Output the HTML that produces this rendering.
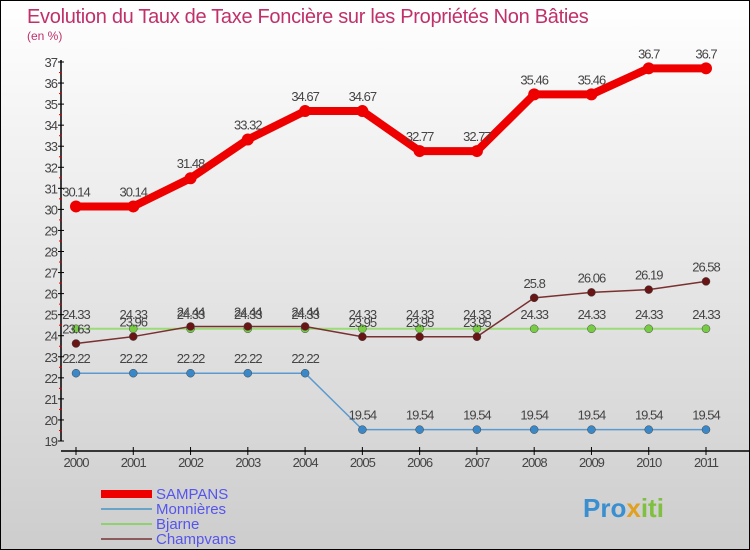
<!DOCTYPE html>
<html><head><meta charset="utf-8"><style>
html,body{margin:0;padding:0}
body{width:750px;height:550px;overflow:hidden;font-family:"Liberation Sans",sans-serif}
#wrap{position:relative;width:748px;height:548px;border:1px solid #000;background:linear-gradient(#ffffff,#cdcdcd)}
</style></head><body>
<div id="wrap">
<svg id="chart" width="748" height="548" style="position:absolute;left:0;top:0">
<text x="26" y="22" font-size="20" fill="#c0306a" letter-spacing="-0.3">Evolution du Taux de Taxe Foncière sur les Propriétés Non Bâties</text>
<text x="26" y="39" font-size="12" fill="#c0306a">(en %)</text>
<g id="axes"></g><g id="series"></g>
<g>
<rect x="100" y="489" width="51" height="8" fill="#ee0000"/>
<text x="155" y="498" font-size="15" fill="#5555ee">SAMPANS</text>
<rect x="100" y="507" width="51" height="2" fill="#6aa3c8"/>
<text x="155" y="513" font-size="15" fill="#5555ee">Monnières</text>
<rect x="100" y="522" width="51" height="2" fill="#8fd070"/>
<text x="155" y="528" font-size="15" fill="#5555ee">Bjarne</text>
<rect x="100" y="537" width="51" height="2" fill="#8b5a5a"/>
<text x="155" y="543" font-size="15" fill="#5555ee">Champvans</text>
</g>
<text x="582" y="516" font-size="26" font-weight="bold" fill="#3a8fd0">Pro<tspan fill="#e0a020">x</tspan><tspan fill="#80c040">iti</tspan></text>
</svg>
</div>
<script>
const years=[2000,2001,2002,2003,2004,2005,2006,2007,2008,2009,2010,2011];
const sampans=[30.14,30.14,31.48,33.32,34.67,34.67,32.77,32.77,35.46,35.46,36.7,36.7];
const monnieres=[22.22,22.22,22.22,22.22,22.22,19.54,19.54,19.54,19.54,19.54,19.54,19.54];
const bjarne=[24.33,24.33,24.33,24.33,24.33,24.33,24.33,24.33,24.33,24.33,24.33,24.33];
const champvans=[23.63,23.96,24.44,24.44,24.44,23.95,23.95,23.95,25.8,26.06,26.19,26.58];
const yTicks=[19,20,21,22,23,24,25,26,27,28,29,30,31,32,33,34,35,36,37];
const NS="http://www.w3.org/2000/svg";
const yMin=19,yMax=37,yTop=61,yBot=440;
function y(v){return yBot-(v-yMin)/(yMax-yMin)*(yBot-yTop);}
function x(i){return 75+i*(705-75)/(years.length-1);}
function mk(tag,attrs,parent){const e=document.createElementNS(NS,tag);for(const k in attrs)e.setAttribute(k,attrs[k]);parent.appendChild(e);return e;}
const ax=document.getElementById('axes'),sg=document.getElementById('series');
let l=mk('line',{x1:60,y1:yTop-2,x2:60,y2:yBot,stroke:'#000','stroke-width':1.5},ax);


l=mk('line',{x1:60,y1:450,x2:748,y2:450,stroke:'#000','stroke-width':1.5},ax);


yTicks.forEach((t,i)=>{
 mk('line',{x1:57,y1:y(t),x2:63,y2:y(t),stroke:'#000'},ax);
 if(i<yTicks.length-1) mk('line',{x1:58,y1:y(t+0.5),x2:61,y2:y(t+0.5),stroke:'#e00000'},ax);
 const tx=mk('text',{x:56,y:y(t)+5,'font-size':13,'text-anchor':'end',fill:'#444','letter-spacing':'-1'},ax);
 tx.textContent=t;
 
 
});
years.forEach((yr,i)=>{
 mk('line',{x1:x(i),y1:446,x2:x(i),y2:454,stroke:'#000'},ax);
 const tx=mk('text',{x:x(i),y:466,'font-size':13,'text-anchor':'middle',fill:'#444','letter-spacing':'-1'},ax);
 tx.textContent=yr;
 
 
});
function draw(vals,name,color,width,r,dot){
 const g=mk('g',{},sg);
 
 
 const p=mk('polyline',{points:vals.map((v,i)=>x(i)+','+y(v)).join(' '),fill:'none',stroke:color,'stroke-width':width,'stroke-linejoin':'round'},g);
 
 
 vals.forEach((v,i)=>{
  const c=mk('circle',{cx:x(i),cy:y(v),r:r,fill:dot,stroke:dot==color?'none':'#444','stroke-width':0.5},g);
  
  
  const t=mk('text',{x:x(i),y:y(v)-10,'font-size':13,'text-anchor':'middle',fill:'#444','letter-spacing':'-1'},g);
  t.textContent=String(v);
  
  
 });
}
draw(bjarne,'bjarne','#99dd77',2,4,'#77cc44');
draw(monnieres,'monnieres','#5a9ad0',1.5,4,'#3a88c8');
draw(champvans,'champvans','#7a3030',1.5,4,'#6a1515');
draw(sampans,'sampans','#ee0000',8,6,'#ee0000');
</script>
</body></html>
